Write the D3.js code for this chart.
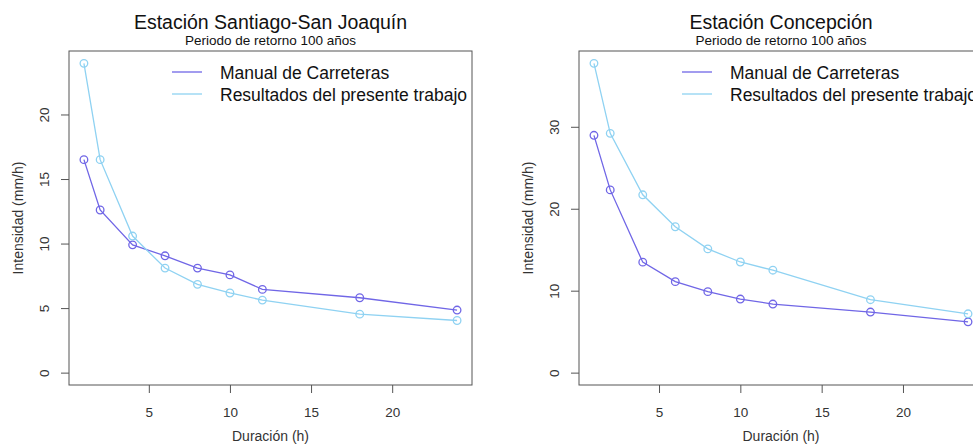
<!DOCTYPE html>
<html>
<head>
<meta charset="utf-8">
<script src="https://cdn.jsdelivr.net/npm/d3@7"></script>
<style>
  html, body { margin: 0; padding: 0; background: #fff; overflow: hidden; }
  text { font-family: "Liberation Sans", Arial, sans-serif; }
</style>
</head>
<body>
<div id="chart"></div>
<script>
// durations (h)
var durations = [1, 2, 4, 6, 8, 10, 12, 18, 24];

// Santiago-San Joaquin
var santiagoManual = [16.5, 12.6, 9.9, 9.05, 8.1, 7.57, 6.45, 5.8, 4.85];
var santiagoResult = [23.96, 16.5, 10.58, 8.1, 6.84, 6.17, 5.62, 4.53, 4.04];

// Concepcion
var concepcionManual = [28.96, 22.3, 13.48, 11.1, 9.88, 8.98, 8.37, 7.39, 6.2];
var concepcionResult = [37.74, 29.2, 21.7, 17.8, 15.1, 13.5, 12.5, 8.9, 7.18];

var titles = ["Estación Santiago-San Joaquín", "Estación Concepción"];
var subtitle = "Periodo de retorno 100 años";
var legendLabels = ["Manual de Carreteras", "Resultados del presente trabajo"];
var xTicks = [5, 10, 15, 20];
var yTicksLeft = [0, 5, 10, 15, 20];
var yTicksRight = [0, 10, 20, 30];

var colManual = "#7066e6";
var colResult = "#8fd2f2";

var svgWidth = 973, svgHeight = 445;

var svg = d3.select("#chart")
  .append("svg")
  .attr("width", svgWidth)
  .attr("height", svgHeight);

var panels = [
  { left: 69, right: 472, title: titles[0], manual: santiagoManual, result: santiagoResult, yTicks: yTicksLeft },
  { left: 579, right: 983, title: titles[1], manual: concepcionManual, result: concepcionResult, yTicks: yTicksRight }
];

var plotTop = 51, plotBottom = 385;

panels.forEach(function(p) {
  var g = svg.append("g");

  // R style 4% padding
  var xPad = (24 - 1) * 0.04;
  var x = d3.scaleLinear().domain([1 - xPad, 24 + xPad]).range([p.left, p.right]);
  var ymax = d3.max(p.result);
  var yPad = ymax * 0.04;
  var y = d3.scaleLinear().domain([-yPad, ymax + yPad]).range([plotBottom, plotTop]);

  // box
  g.append("rect")
    .attr("x", p.left).attr("y", plotTop)
    .attr("width", p.right - p.left).attr("height", plotBottom - plotTop)
    .attr("fill", "none").attr("stroke", "#555").attr("stroke-width", 1);

  // x axis
  var xAxis = g.append("g")
    .attr("transform", "translate(0," + plotBottom + ")")
    .call(d3.axisBottom(x).tickValues(xTicks).tickSize(8).tickPadding(14));
  xAxis.select(".domain").remove();
  xAxis.selectAll("line").attr("stroke", "#555");
  xAxis.selectAll("text").attr("fill", "#333").style("font-size", "13.5px")
    .style("font-family", "'Liberation Sans', Arial, sans-serif");

  // y axis
  var yAxis = g.append("g")
    .attr("transform", "translate(" + p.left + ",0)")
    .call(d3.axisLeft(y).tickValues(p.yTicks).tickSize(8));
  yAxis.select(".domain").remove();
  yAxis.selectAll("line").attr("stroke", "#555");
  yAxis.selectAll("text")
    .attr("fill", "#333")
    .attr("x", 0).attr("dy", null)
    .attr("text-anchor", "middle")
    .attr("transform", "translate(-24,0) rotate(-90)")
    .attr("y", 4)
    .style("font-size", "13.5px")
    .style("font-family", "'Liberation Sans', Arial, sans-serif");

  // axis titles
  g.append("text")
    .attr("x", (p.left + p.right) / 2).attr("y", 441)
    .attr("text-anchor", "middle").attr("fill", "#333")
    .style("font-size", "14px")
    .text("Duración (h)");
  g.append("text")
    .attr("transform", "translate(" + (p.left - 46) + "," + ((plotTop + plotBottom) / 2) + ") rotate(-90)")
    .attr("text-anchor", "middle").attr("fill", "#333")
    .style("font-size", "14px")
    .text("Intensidad (mm/h)");

  // titles
  g.append("text")
    .attr("x", (p.left + p.right) / 2).attr("y", 29)
    .attr("text-anchor", "middle").attr("fill", "#111")
    .style("font-size", "19.5px")
    .text(p.title);
  g.append("text")
    .attr("x", (p.left + p.right) / 2).attr("y", 45)
    .attr("text-anchor", "middle").attr("fill", "#111")
    .style("font-size", "13.5px")
    .text(subtitle);

  // series
  var line = d3.line()
    .x(function(d) { return x(d[0]); })
    .y(function(d) { return y(d[1]); });

  [[p.manual, colManual], [p.result, colResult]].forEach(function(s) {
    var pts = durations.map(function(d, i) { return [d, s[0][i]]; });
    g.append("path")
      .datum(pts)
      .attr("fill", "none").attr("stroke", s[1]).attr("stroke-width", 1.3)
      .attr("d", line);
    g.selectAll(null)
      .data(pts)
      .enter()
      .append("circle")
      .attr("cx", function(d) { return x(d[0]); })
      .attr("cy", function(d) { return y(d[1]); })
      .attr("r", 3.8)
      .attr("fill", "none").attr("stroke", s[1]).attr("stroke-width", 1.3);
  });

  // legend
  var lx = p.left + 103;
  legendLabels.forEach(function(lbl, i) {
    var ly = 72 + i * 22;
    g.append("line")
      .attr("x1", lx).attr("x2", lx + 30)
      .attr("y1", ly).attr("y2", ly)
      .attr("stroke", i === 0 ? colManual : colResult).attr("stroke-width", 1.3);
    g.append("text")
      .attr("x", lx + 48).attr("y", ly + 7)
      .attr("fill", "#111")
      .style("font-size", "17.5px")
      .text(lbl);
  });
});
</script>
</body>
</html>
